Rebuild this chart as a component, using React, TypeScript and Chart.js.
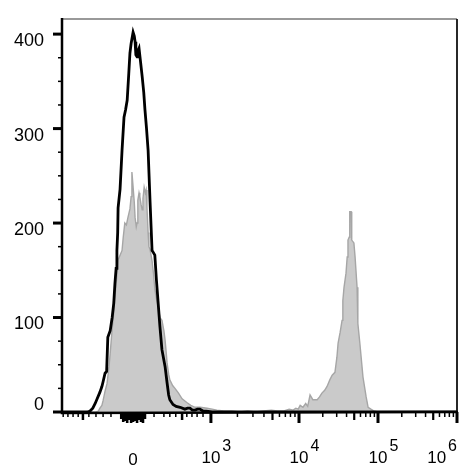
import React, { useEffect, useRef } from 'react';
import { Chart, registerables } from 'chart.js';

Chart.register(...registerables);

// ---- axis definitions (channel units on a 0..1000 biexponential display scale) ----
const yTickValues = [0, 100, 200, 300, 400];
const yTickLabels = ['0', '100', '200', '300', '400'];
const yMinorStep = 25;

const xDecadeChannels = [180, 377, 600, 800, 1000];
const xDecadeBase = ['0', '10', '10', '10', '10'];
const xDecadeExp = ['', '3', '4', '5', '6'];
const xLinearTickChannels = [3, 15, 28, 41, 53, 68, 86, 104, 124, 233, 258, 273, 288, 304, 316, 329, 342, 357];
const xLinearLongTickChannels = [53, 304];
const xZeroBlockChannels = [150, 155, 160, 165, 170, 175, 180, 185, 190, 195, 200, 205, 210];

// ---- histogram data: [channel, count] ----
const unstainedX = [0, 65, 71, 78, 84, 89, 96, 101, 104, 109, 113, 116, 122, 127, 131, 134, 137, 139, 141, 142, 147, 152, 157, 161, 165, 169, 172, 175, 180, 183, 185, 187, 190, 192, 195, 199, 203, 207, 210, 214, 218, 223, 228, 231, 235, 239, 243, 248, 253, 261, 266, 270, 273, 281, 289, 299, 311, 318, 324, 330, 337, 343, 349, 357, 365, 380, 1000];
const unstainedY = [0, 0, 1, 4, 9, 14, 21, 27, 32, 41, 43, 79, 86, 100, 115, 136, 152, 171, 190, 216, 236, 277, 312, 320, 330, 358, 380, 390, 402, 398, 392, 378, 376, 382, 385, 370, 355, 338, 320, 300, 277, 222, 171, 169, 166, 140, 118, 90, 66, 48, 31, 18, 13, 8, 6, 5, 3, 4, 4, 2, 2, 3, 3, 1, 1, 0, 0];

const stainedX = [0, 85, 92, 96, 101, 104, 109, 114, 119, 122, 127, 131, 134, 138, 142, 147, 152, 155, 159, 163, 167, 172, 175, 177, 180, 183, 185, 188, 190, 192, 195, 197, 200, 203, 205, 208, 211, 213, 215, 218, 220, 223, 228, 232, 235, 239, 243, 248, 253, 258, 261, 264, 266, 270, 273, 280, 286, 295, 304, 316, 326, 337, 350, 367, 380, 392, 410, 430, 450, 470, 490, 510, 530, 545, 560, 575, 585, 592, 598, 603, 610, 617, 622, 628, 635, 646, 652, 658, 665, 671, 678, 684, 691, 696, 699, 704, 709, 711, 714, 719, 722, 724, 727, 728, 729, 732, 733, 734, 739, 742, 747, 749, 754, 762, 770, 775, 782, 790, 800, 1000];
const stainedY = [0, 0, 1, 4, 7, 12, 22, 30, 48, 62, 88, 105, 122, 140, 161, 166, 171, 185, 200, 198, 206, 215, 228, 254, 238, 222, 206, 196, 200, 224, 232, 228, 220, 214, 226, 238, 232, 235, 217, 190, 175, 172, 160, 145, 130, 120, 112, 100, 97, 86, 76, 62, 52, 40, 34, 28, 25, 20, 14, 10, 7, 5, 5, 4, 3, 2, 1, 1, 0, 1, 0, 1, 2, 1, 1, 3, 2, 4, 3, 7, 5, 9, 6, 18, 13, 13, 16, 20, 23, 27, 34, 39, 42, 58, 73, 84, 97, 118, 132, 147, 164, 182, 185, 203, 212, 212, 189, 182, 179, 164, 132, 94, 73, 37, 16, 5, 3, 1, 0, 0];

const FONT = '"Liberation Sans", Arial, sans-serif';

const axesPlugin = {
  id: 'flowAxes',
  afterDatasetsDraw(chart: any) {
    const ctx = chart.ctx as CanvasRenderingContext2D;
    const xs = chart.scales.x;
    const ys = chart.scales.y;
    const area = chart.chartArea;
    const y0 = ys.getPixelForValue(0);
    ctx.save();

    // frame
    ctx.strokeStyle = '#777';
    ctx.lineWidth = 1.5;
    ctx.beginPath();
    ctx.moveTo(area.left, area.top);
    ctx.lineTo(area.right, area.top);
    ctx.stroke();
    ctx.strokeStyle = '#111';
    ctx.lineWidth = 1.8;
    ctx.beginPath();
    ctx.moveTo(area.right, area.top);
    ctx.lineTo(area.right, y0);
    ctx.stroke();

    ctx.strokeStyle = '#000';
    ctx.lineWidth = 2.5;
    ctx.beginPath();
    ctx.moveTo(area.left, area.top - 1);
    ctx.lineTo(area.left, y0 + 1);
    ctx.lineTo(area.right + 1, y0);
    ctx.stroke();

    // y ticks
    const yMax = ys.max;
    for (let v = 0; v <= yMax; v += yMinorStep) {
      const py = ys.getPixelForValue(v);
      const major = v % 100 === 0;
      ctx.lineWidth = major ? 3 : 1.5;
      ctx.beginPath();
      ctx.moveTo(area.left - (major ? 9 : 4), py);
      ctx.lineTo(area.left, py);
      ctx.stroke();
    }
    ctx.fillStyle = '#000';
    ctx.font = `18px ${FONT}`;
    ctx.textAlign = 'right';
    ctx.textBaseline = 'middle';
    yTickValues.forEach((v, i) => {
      const py = ys.getPixelForValue(v);
      ctx.fillText(yTickLabels[i], area.left - 18, v === 0 ? py - 7 : py + 7);
    });

    // x ticks
    const tick = (ch: number, len: number, w: number) => {
      const px = xs.getPixelForValue(ch);
      ctx.lineWidth = w;
      ctx.beginPath();
      ctx.moveTo(px, y0);
      ctx.lineTo(px, y0 + len);
      ctx.stroke();
    };
    xLinearTickChannels.forEach((ch) => {
      const long = xLinearLongTickChannels.includes(ch);
      tick(ch, long ? 8 : 5, long ? 2.5 : 1.5);
    });
    const blockLens = [7, 10, 9, 11, 8, 11, 10, 9, 11, 8, 10, 11, 7];
    xZeroBlockChannels.forEach((ch, i) => tick(ch, blockLens[i % blockLens.length], 2.6));
    for (let d = 1; d < xDecadeChannels.length; d++) {
      tick(xDecadeChannels[d], 11, 3);
      if (d < xDecadeChannels.length - 1) {
        const a = xDecadeChannels[d];
        const b = xDecadeChannels[d + 1];
        for (let m = 2; m <= 9; m++) {
          const ch = a + (b - a) * Math.log10(m);
          tick(ch, m === 5 ? 8 : 5, m === 5 ? 2.2 : 1.5);
        }
      }
    }

    // x labels
    ctx.textBaseline = 'middle';
    xDecadeChannels.forEach((ch, i) => {
      const px = xs.getPixelForValue(ch);
      const base = xDecadeBase[i];
      const exp = xDecadeExp[i];
      ctx.font = `17px ${FONT}`;
      const bw = ctx.measureText(base).width;
      ctx.font = `16px ${FONT}`;
      const ew = exp ? ctx.measureText(exp).width + 2 : 0;
      let left = px - bw / 2;
      if (left + bw + ew > chart.width - 19) left = chart.width - 19 - bw - ew;
      ctx.textAlign = 'left';
      ctx.font = `17px ${FONT}`;
      ctx.fillText(base, left, exp ? 458 : 460);
      if (exp) {
        ctx.font = `16px ${FONT}`;
        ctx.fillText(exp, left + bw + 2, 447);
      }
    });

    ctx.restore();
  },
};

export default function App() {
  const ref = useRef<HTMLCanvasElement | null>(null);

  useEffect(() => {
    document.body.style.margin = '0';
    if (!ref.current) return;
    const chart = new Chart(ref.current, {
      type: 'line',
      data: {
        datasets: [
          {
            label: 'Unstained',
            data: unstainedX.map((x, i) => ({ x, y: unstainedY[i] })),
            borderColor: '#000',
            borderWidth: 2.8,
            pointRadius: 0,
            fill: false,
            tension: 0,
            order: 0,
          },
          {
            label: 'Stained',
            data: stainedX.map((x, i) => ({ x, y: stainedY[i] })),
            borderColor: '#a6a6a6',
            backgroundColor: '#cacaca',
            borderWidth: 1.4,
            pointRadius: 0,
            fill: 'origin',
            tension: 0,
            order: 1,
          },
        ],
      },
      options: {
        animation: false,
        responsive: false,
        devicePixelRatio: 1,
        layout: { padding: { left: 62, top: 19, right: 19, bottom: 64 } },
        plugins: { legend: { display: false }, tooltip: { enabled: false } },
        scales: {
          x: { type: 'linear', min: 0, max: 1000, display: false },
          y: { type: 'linear', min: 0, max: 416, display: false },
        },
      },
      plugins: [axesPlugin],
    });
    return () => chart.destroy();
  }, []);

  return (
    <div style={{ width: 476, height: 476, background: '#fff' }}>
      <canvas ref={ref} width={476} height={476} style={{ display: 'block' }} />
    </div>
  );
}
